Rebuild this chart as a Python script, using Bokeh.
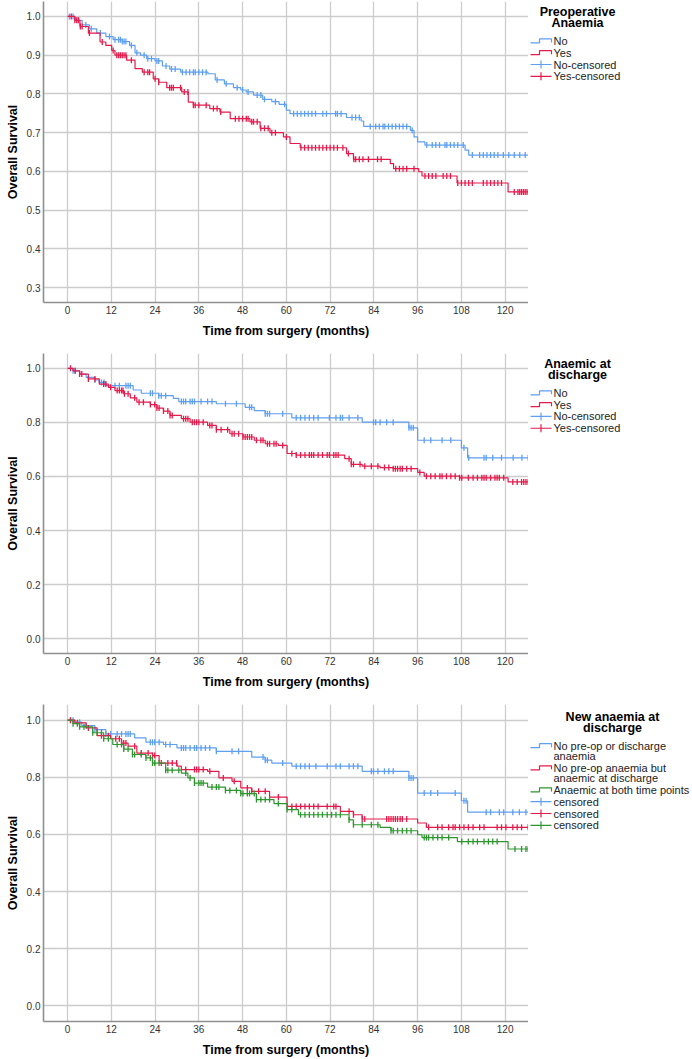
import numpy as np
from bokeh.plotting import figure
from bokeh.layouts import column, row
from bokeh.models import Range1d, FixedTicker, PrintfTickFormatter
from bokeh.core.properties import value
from bokeh.embed import file_html
from bokeh.resources import INLINE

FONT = "Liberation Sans"
BLUE = "#5e9ff0"
RED = "#e6194b"
GREEN = "#2e962e"

x_ticks = [0, 12, 24, 36, 48, 60, 72, 84, 96, 108, 120]

# --- panel 1: preoperative anaemia ---
no1_t = [0, 2, 4, 6, 8, 10.5, 12.5, 15, 17, 18.5, 20, 21.7, 24, 26, 28, 31, 38.5, 40.5, 43, 45.5,
         47.5, 49, 51, 53.5, 56, 58, 60, 61, 76.5, 80.5, 81.2, 94, 95, 96, 98, 109, 110, 126.5]
no1_s = [1.0, 0.99, 0.978, 0.968, 0.957, 0.948, 0.94, 0.935, 0.925, 0.906, 0.9, 0.891, 0.885, 0.872,
         0.864, 0.856, 0.852, 0.836, 0.826, 0.816, 0.81, 0.805, 0.797, 0.786, 0.78, 0.773, 0.758, 0.749,
         0.739, 0.73, 0.716, 0.706, 0.689, 0.676, 0.668, 0.655, 0.642, 0.642]
no1_cens = [0.5, 1.5, 3, 5, 6.5, 9, 11.5, 13, 14, 14.5, 15, 15.5, 16, 17.5, 19, 21, 22, 23, 24.5, 25,
            27, 28.5, 29.5, 31.5, 32.5, 33.5, 34.5, 35, 36, 37, 38, 41, 43.5, 46.5, 48, 49.5, 52, 53,
            54, 57, 59.5, 62, 63, 64, 65, 66, 67, 68, 70, 71, 73.5, 74, 75, 78, 79, 80, 83, 84.5, 85.5,
            86.5, 87, 88, 89, 90, 91, 92, 93, 94.5, 98.5, 100, 101, 102, 103.5, 104, 105, 106, 107,
            108.5, 111, 113, 114, 115, 116, 117, 118, 119.5, 121, 122.5, 124, 125.5]
yes1_t = [0, 2, 3.4, 5.7, 8.9, 10.5, 12.1, 13, 16.2, 18.5, 20.5, 23.5, 25, 27.2, 31.3, 33.1, 34.5, 39,
          41.8, 44.6, 50, 52.8, 55.5, 59.2, 61, 63.8, 76.5, 78.4, 88.5, 89.4, 96.3, 97.2, 106.8,
          120.8, 126.5]
yes1_s = [1.0, 0.99, 0.974, 0.957, 0.934, 0.925, 0.912, 0.9, 0.887, 0.865, 0.856, 0.839, 0.83, 0.816,
          0.805, 0.779, 0.771, 0.762, 0.753, 0.736, 0.728, 0.711, 0.7, 0.689, 0.672, 0.661, 0.646,
          0.631, 0.62, 0.607, 0.599, 0.588, 0.57, 0.547, 0.547]
yes1_cens = [1, 2, 2.5, 3, 3.5, 4, 6, 9.5, 12.5, 13.5, 14, 14.5, 15, 15.5, 16, 17.5, 21, 22, 22.5,
             24, 25, 28, 28.5, 29, 31, 32, 33, 34.5, 35, 36, 38, 40, 41, 42, 46, 47, 48, 49, 49.5,
             50.5, 51, 52, 53, 54, 55, 56, 57, 60, 64, 65, 66, 67, 68, 69, 70, 71, 72, 73, 74, 75.5,
             77, 78.5, 79, 80, 81, 82.5, 85, 86, 90, 91, 92, 93, 95, 98, 99, 100, 101, 103, 104, 105,
             107, 108, 109, 110, 111, 114, 115, 116, 117, 118, 119, 122.5, 123.5, 124, 124.5, 125,
             125.5, 126]

# --- panel 2: anaemic at discharge ---
no2_t = [0, 1.5, 3.3, 5.1, 7.5, 8.7, 10.5, 18, 20.2, 25, 29, 30.5, 40.8, 48.7, 51.2, 54.2, 61.5,
         80.8, 93.6, 96, 108, 109.7, 126.5]
no2_s = [1.0, 0.991, 0.979, 0.967, 0.957, 0.948, 0.936, 0.92, 0.908, 0.899, 0.889, 0.877, 0.869,
         0.856, 0.844, 0.832, 0.817, 0.801, 0.78, 0.734, 0.706, 0.669, 0.669]
no2_cens = [1.5, 2, 7.5, 9.3, 10, 13, 14.2, 16, 16.6, 17.2, 22.7, 23.3, 25, 25.7, 26.9, 31.2, 31.8,
            32.4, 33.6, 34.2, 34.8, 36.6, 38.4, 39.6, 43.3, 46.3, 49.9, 50.5, 54.2, 54.8, 55.4, 59,
            62.7, 63.9, 65.1, 66.3, 67.5, 68.7, 71.8, 73.6, 74.8, 75.4, 77.2, 79.6, 83.9, 84.5, 85.7,
            87.5, 89.3, 93.6, 94.2, 94.8, 97.8, 99.6, 102.7, 105.1, 108.7, 110, 114.2, 114.8, 116.6,
            119, 122.2, 124.6, 126.3]
yes2_t = [0, 1.5, 3.3, 5.7, 8.7, 11.2, 13, 15.4, 17.2, 19, 22.7, 24.5, 26.3, 28.1, 31.2, 33.6, 38.4,
          40.8, 44.5, 48.1, 51.2, 54.2, 57.8, 60.2, 62.7, 76, 77.8, 80.8, 85.7, 89.3, 96, 97.8, 107.5,
          120.8, 126.5]
yes2_s = [1.0, 0.991, 0.979, 0.961, 0.942, 0.93, 0.918, 0.906, 0.891, 0.875, 0.866, 0.853, 0.842,
          0.826, 0.814, 0.801, 0.789, 0.773, 0.758, 0.746, 0.734, 0.721, 0.715, 0.685, 0.679, 0.666,
          0.645, 0.638, 0.633, 0.629, 0.615, 0.601, 0.595, 0.58, 0.58]
yes2_cens = [0.8, 2.1, 3.3, 3.9, 5.7, 7.5, 9.9, 10.5, 11.8, 13.6, 14.2, 14.8, 15.2, 15.6, 16.6, 18.4,
             19.6, 20.8, 22.7, 23.9, 24.5, 25.1, 26.3, 27.5, 28.1, 28.7, 31.8, 32.4, 33, 34.2, 34.8,
             35.4, 36, 37.2, 39, 39.6, 40.8, 42.1, 43.9, 45.1, 45.7, 46.9, 48.1, 48.7, 49.3, 49.9,
             50.5, 51.8, 53, 53.6, 54.8, 55.4, 56.6, 57.2, 59, 61.5, 62.7, 63.9, 65.1, 66.3, 66.9,
             67.5, 68.7, 69.9, 71.2, 71.8, 73, 73.6, 74.2, 77.2, 77.8, 78.4, 80.2, 81.5, 83.3, 85.1,
             86.9, 88.1, 89.3, 89.9, 90.5, 91.2, 91.8, 93, 94.2, 96.6, 98.4, 99.6, 100.8, 102.1,
             102.7, 103.9, 105.1, 106.3, 107.5, 108.1, 109.9, 111.2, 112.4, 113.6, 114.2, 114.8, 116,
             117.2, 117.8, 118.4, 119.6, 122.1, 123.3, 124.5, 125.1, 125.7, 126.3]

# --- panel 3: new anaemia at discharge ---
none3_t = [0, 2, 3.9, 7.5, 10.5, 18.4, 21.5, 26.3, 30, 40.8, 50.5, 54.2, 56, 61.5, 80.8, 93.6, 96,
           108, 109.7, 126.5]
none3_s = [1.0, 0.993, 0.981, 0.967, 0.952, 0.938, 0.923, 0.915, 0.903, 0.891, 0.871, 0.86, 0.85,
           0.839, 0.821, 0.798, 0.745, 0.718, 0.678, 0.678]
none3_cens = [0.8, 1.5, 3.3, 5.1, 7.5, 10.5, 11.8, 13.6, 14.8, 16, 16.6, 17.2, 22.7, 23.3, 23.9,
              25.1, 26.9, 28.1, 31.2, 31.8, 32.4, 33.6, 34.8, 35.4, 36.6, 37.8, 39, 40.8, 45.1, 46.9,
              53.6, 54.2, 54.8, 59, 62.7, 63.9, 65.1, 66.3, 68.1, 71.2, 73.6, 74.8, 77.2, 78.4, 79.6,
              83.3, 83.9, 85.1, 86.9, 88.1, 89.3, 93.6, 94.2, 94.8, 97.8, 99.6, 101.5, 106.3, 108.7,
              109.3, 114.8, 116, 118.4, 119.6, 122.1, 123.9, 125.7]
new3_t = [0, 2, 5.1, 8.1, 11.8, 14.8, 16.6, 19, 23.3, 25.1, 30, 31.2, 38.4, 41.5, 45.1, 47.5, 50.5,
          55.4, 60.2, 74.8, 78.4, 80.8, 96, 98.4, 126.5]
new3_s = [1.0, 0.991, 0.973, 0.946, 0.935, 0.92, 0.909, 0.885, 0.876, 0.85, 0.839, 0.827, 0.821,
          0.798, 0.786, 0.763, 0.751, 0.731, 0.698, 0.681, 0.669, 0.654, 0.64, 0.625, 0.625]
new3_cens = [0.8, 2.7, 5.7, 9.3, 11.2, 13.2, 14.2, 14.8, 15.4, 16, 18.4, 20.2, 22.1, 23.3, 23.9,
             25.7, 27.5, 28.7, 29.9, 32.4, 34.8, 35.4, 36, 37.2, 39, 42.7, 45.7, 49.3, 50.5, 52.4,
             54.2, 57.8, 61.5, 62.7, 63.9, 65.1, 66.3, 67.5, 68.7, 71.2, 73, 73.6, 77.2, 78.4, 80.8,
             81.5, 87.5, 88.1, 88.7, 89.3, 89.9, 90.5, 91.2, 91.8, 93, 99, 101.5, 102.7, 104.5, 105.7,
             106.3, 107.5, 108.7, 109.9, 111.2, 113, 114.2, 117.8, 119, 120.2, 122.1, 123.3, 124.5,
             126.3]
both3_t = [0, 1.5, 3.3, 6.9, 9.9, 12.4, 15.4, 17.8, 21.5, 23.3, 26.9, 31.2, 33, 34.8, 38.4, 43.3,
           47.5, 51.8, 56.6, 60.2, 63.3, 77.2, 78.4, 85.7, 88.7, 96, 97.2, 106.9, 120.8, 126.5]
both3_s = [1.0, 0.988, 0.977, 0.956, 0.935, 0.915, 0.899, 0.88, 0.868, 0.85, 0.825, 0.815, 0.798,
           0.78, 0.766, 0.754, 0.743, 0.722, 0.708, 0.687, 0.669, 0.651, 0.634, 0.625, 0.613, 0.599,
           0.589, 0.575, 0.549, 0.549]
both3_cens = [1.5, 2.7, 3.3, 4.5, 6.9, 8.1, 9.3, 9.9, 11.2, 13.6, 14.8, 15.4, 16.6, 17.8, 18.4, 20.2,
              21.5, 22.7, 23.3, 23.9, 25.1, 26.9, 27.5, 28.7, 30.5, 32.4, 33.6, 34.8, 36, 36.6, 37.2,
              39.6, 40.8, 41.5, 43.3, 44.5, 46.3, 47.5, 48.1, 49.3, 49.9, 51.2, 51.8, 53, 54.2, 55.4,
              57.8, 60.2, 61.5, 63.9, 65.1, 66.3, 67.5, 68.7, 69.9, 71.2, 72.4, 73.6, 74.8, 77.2, 78.4,
              80.8, 83.3, 85.1, 88.7, 89.3, 90.5, 91.8, 93, 94.2, 97.8, 98.4, 99, 100.2, 101.5, 102.7,
              104.5, 108.1, 109.9, 111.2, 112.4, 114.2, 115.4, 116.6, 117.8, 122.7, 124.5, 125.7,
              126.3]


def censor_y(t, s, c):
    idx = np.searchsorted(np.asarray(t), np.asarray(c), side="right") - 1
    return np.asarray(s)[idx]


def km_panel(curves, y_lo, y_hi, y_ticks, height, top, frame_h):
    p = figure(width=528, height=height, output_backend="svg", toolbar_location=None,
               x_range=Range1d(-6.6, 126.4), y_range=Range1d(y_lo, y_hi),
               min_border_left=43, min_border_right=0, min_border_top=top,
               min_border_bottom=height - top - frame_h)
    p.outline_line_color = None
    p.background_fill_color = "white"

    for ax in (p.xaxis[0], p.yaxis[0]):
        ax.axis_line_color = "#8f8f8f"
        ax.axis_line_width = 1.6
        ax.major_tick_line_color = None
        ax.minor_tick_line_color = None
        ax.major_tick_out = 0
        ax.major_tick_in = 0
        ax.minor_tick_out = 0
        ax.minor_tick_in = 0
        ax.major_label_text_font = FONT
        ax.major_label_text_font_size = "10px"
        ax.major_label_text_color = "#333333"
        ax.axis_label_text_font = FONT
        ax.axis_label_text_font_style = "bold"
        ax.axis_label_text_font_size = "12.5px"
        ax.axis_label_text_color = "black"
    p.xaxis.major_label_standoff = 3
    p.xaxis.axis_label_standoff = 7
    p.yaxis.major_label_standoff = 3
    p.yaxis.axis_label_standoff = 4

    p.xaxis.ticker = FixedTicker(ticks=x_ticks)
    p.yaxis.ticker = FixedTicker(ticks=y_ticks)
    p.yaxis.formatter = PrintfTickFormatter(format="%.1f")
    p.xaxis.axis_label = "Time from surgery (months)"
    p.yaxis.axis_label = "Overall Survival"

    p.xgrid.ticker = FixedTicker(ticks=x_ticks)
    p.ygrid.ticker = FixedTicker(ticks=y_ticks)
    p.grid.grid_line_color = "#cccccc"
    p.grid.grid_line_width = 1.3

    for t, s, cens, color in curves:
        p.step(t, s, mode="after", line_color=color, line_width=1.2)
        p.scatter(cens, censor_y(t, s, cens), marker="dash", angle=np.pi / 2, size=6,
                  line_color=color, line_width=1.3)
    return p


def legend_fig(height, frame_h, y_one, title_lines, items, cx):
    # the row aligns this figure's frame with the chart frame, so y is measured
    # in pixels from the top of that frame
    lp = figure(width=164, height=height, output_backend="svg", toolbar_location=None,
                x_range=Range1d(0, 164), y_range=Range1d(frame_h, 0),
                x_axis_location=None, y_axis_location=None, min_border=0)
    lp.outline_line_color = None
    lp.grid.visible = False

    ty = [y_one - 4.5 + 11.5 * i for i in range(len(title_lines))]
    lp.text(x=[cx] * len(title_lines), y=ty, text=title_lines, text_font=value(FONT),
            text_font_style="bold", text_font_size="12.5px", text_align="center",
            text_baseline="middle", text_color="black")

    y = y_one + 24.5
    for lines, color, kind in items:
        if kind == "step":
            lp.line([2, 11, 11, 23, 23], [y + 2, y + 2, y - 2, y - 2, y + 1.5],
                    line_color=color, line_width=1.2)
        else:
            lp.line([2, 23], [y, y], line_color=color, line_width=1.2)
            lp.line([12.5, 12.5], [y - 4, y + 4], line_color=color, line_width=1.2)
        ly = [y + 10.3 * j for j in range(len(lines))]
        lp.text(x=[25] * len(lines), y=ly, text=lines, text_font=value(FONT),
                text_font_size="11px", text_baseline="middle", text_color="#222222")
        y += 11.8 + 10.3 * (len(lines) - 1)
    return lp


# panel 1
h1, t1, fh1 = 351, 1, 301
p1 = km_panel([(no1_t, no1_s, no1_cens, BLUE), (yes1_t, yes1_s, yes1_cens, RED)],
              0.2615, 1.0385, [0.3, 0.4, 0.5, 0.6, 0.7, 0.8, 0.9, 1.0], h1, t1, fh1)
l1 = legend_fig(h1, fh1, fh1 * 0.0385 / 0.777, ["Preoperative", "Anaemia"],
                [(["No"], BLUE, "step"), (["Yes"], RED, "step"),
                 (["No-censored"], BLUE, "cens"), (["Yes-censored"], RED, "cens")], 49)

# panel 2
h2, t2, fh2 = 351, 2, 300
p2 = km_panel([(no2_t, no2_s, no2_cens, BLUE), (yes2_t, yes2_s, yes2_cens, RED)],
              -0.055, 1.055, [0.0, 0.2, 0.4, 0.6, 0.8, 1.0], h2, t2, fh2)
l2 = legend_fig(h2, fh2, fh2 * 0.055 / 1.11, ["Anaemic at", "discharge"],
                [(["No"], BLUE, "step"), (["Yes"], RED, "step"),
                 (["No-censored"], BLUE, "cens"), (["Yes-censored"], RED, "cens")], 49)

# panel 3
h3, t3, fh3 = 357, 2, 317
p3 = km_panel([(none3_t, none3_s, none3_cens, BLUE), (new3_t, new3_s, new3_cens, RED),
               (both3_t, both3_s, both3_cens, GREEN)],
              -0.055, 1.055, [0.0, 0.2, 0.4, 0.6, 0.8, 1.0], h3, t3, fh3)
l3 = legend_fig(h3, fh3, fh3 * 0.055 / 1.11 + 1, ["New anaemia at", "discharge"],
                [(["No pre-op or discharge", "anaemia"], BLUE, "step"),
                 (["No pre-op anaemia but", "anaemic at discharge"], RED, "step"),
                 (["Anaemic at both time points"], GREEN, "step"),
                 (["censored"], BLUE, "cens"), (["censored"], RED, "cens"),
                 (["censored"], GREEN, "cens")], 84)

layout = column(row(p1, l1), row(p2, l2), row(p3, l3))
open("out.html", "w").write(file_html(layout, INLINE))
